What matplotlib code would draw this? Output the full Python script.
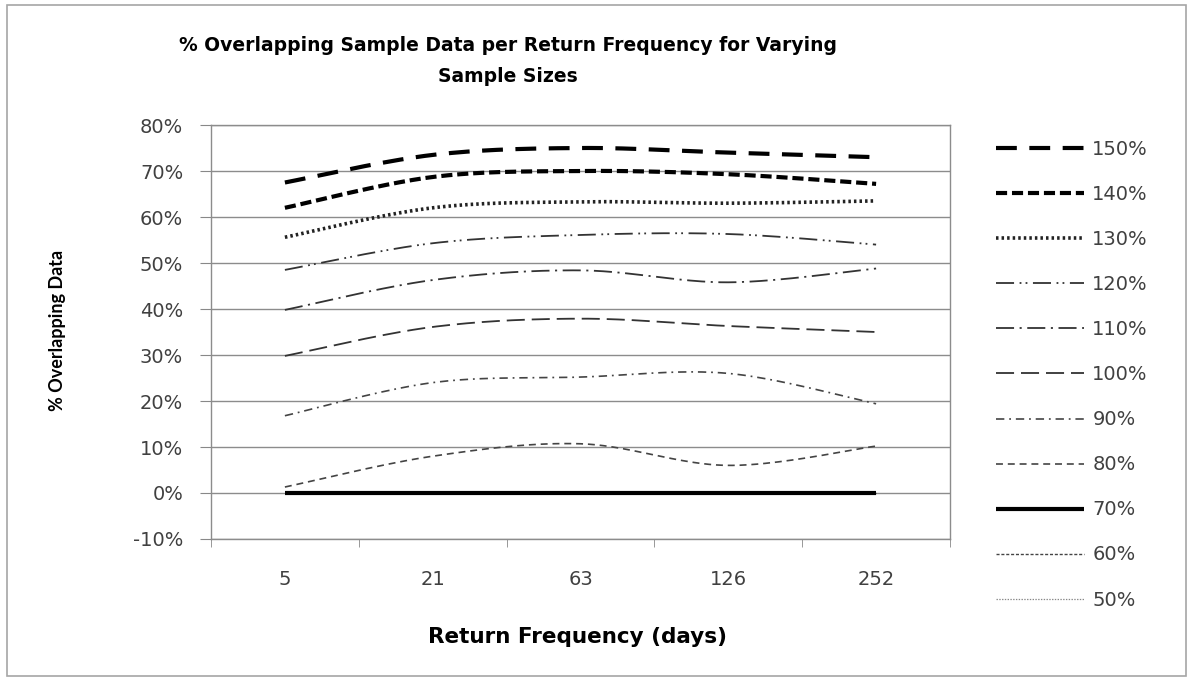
import numpy as np
import matplotlib
matplotlib.use("Agg")
import matplotlib.pyplot as plt
from matplotlib.patches import Rectangle

plt.rcParams['lines.scale_dashes'] = False

# ---- data ----
categories = ["5", "21", "63", "126", "252"]
series_labels = ["150%", "140%", "130%", "120%", "110%", "100%", "90%", "80%", "70%", "60%", "50%"]
s150 = [67.5, 73.5, 75.0, 74.0, 73.0]
s140 = [62.0, 68.7, 70.0, 69.3, 67.2]
s130 = [55.6, 62.0, 63.3, 63.0, 63.5]
s120 = [48.5, 54.3, 56.1, 56.3, 54.0]
s110 = [39.8, 46.3, 48.4, 45.8, 48.8]
s100 = [29.8, 36.1, 37.9, 36.3, 35.0]
s90 = [16.8, 24.0, 25.2, 26.0, 19.4]
s80 = [1.3, 8.0, 10.7, 6.0, 10.2]
s70 = [0.0, 0.0, 0.0, 0.0, 0.0]
s60 = [0.0, 0.0, 0.0, 0.0, 0.0]
s50 = [0.0, 0.0, 0.0, 0.0, 0.0]
yticks = [-10, 0, 10, 20, 30, 40, 50, 60, 70, 80]

series_values = [s150, s140, s130, s120, s110, s100, s90, s80, s70, s60, s50]

styles = {
    "150%": dict(lw=3.0, color="black", dashes=(15, 9)),
    "140%": dict(lw=3.0, color="black", dashes=(8, 3.5)),
    "130%": dict(lw=2.6, color="#222222", dashes=(1.8, 2.2)),
    "120%": dict(lw=1.3, color="#333333", dashes=(13, 4, 1.3, 3, 1.3, 4)),
    "110%": dict(lw=1.3, color="#333333", dashes=(13, 4, 1.5, 4)),
    "100%": dict(lw=1.3, color="#333333", dashes=(13, 5)),
    "90%": dict(lw=1.2, color="#444444", dashes=(6, 3.5, 1.3, 3.5)),
    "80%": dict(lw=1.2, color="#444444", dashes=(5, 3.5)),
    "70%": dict(lw=3.0, color="black"),
    "60%": dict(lw=1.0, color="#444444", dashes=(2.2, 1.3)),
    "50%": dict(lw=0.9, color="#888888", dashes=(1.0, 1.0)),
}


def smooth(x, y, n=40):
    """Catmull-Rom style Bezier smoothing (like Excel smoothed lines)."""
    x = np.asarray(x, float)
    y = np.asarray(y, float)
    P = np.column_stack([x, y])
    out = []
    for i in range(len(P) - 1):
        p0 = P[i - 1] if i > 0 else P[i]
        p1 = P[i]
        p2 = P[i + 1]
        p3 = P[i + 2] if i + 2 < len(P) else P[i + 1]
        b1 = p1 + (p2 - p0) / 6.0
        b2 = p2 - (p3 - p1) / 6.0
        t = np.linspace(0, 1, n)[:, None]
        seg = ((1 - t) ** 3) * p1 + 3 * ((1 - t) ** 2) * t * b1 + 3 * (1 - t) * t ** 2 * b2 + t ** 3 * p2
        out.append(seg if i == 0 else seg[1:])
    pts = np.vstack(out)
    return pts[:, 0], pts[:, 1]


W, H = 1194, 681
fig = plt.figure(figsize=(W / 100, H / 100), dpi=100)
fig.patch.set_facecolor("white")

# outer chart border
fig.add_artist(Rectangle((7 / W, 1 - 676 / H), (1186 - 7) / W, (676 - 5) / H,
                         transform=fig.transFigure, fill=False, edgecolor="#a6a6a6", lw=1.2))

ax = fig.add_axes([211 / W, 1 - 539 / H, (950 - 211) / W, (539 - 125) / H])
xpos = np.arange(len(categories))

handles = {}
for lab, vals in zip(reversed(series_labels), reversed(series_values)):
    st = dict(styles[lab])
    xs, ys = smooth(xpos, vals)
    dashes = st.pop("dashes", None)
    ln, = ax.plot(xs, ys, label=lab, solid_capstyle="butt", dash_capstyle="butt", **st)
    if dashes is not None:
        ln.set_dashes(dashes)
    handles[lab] = ln

TICKFONT = "DejaVu Sans"
ax.set_xlim(-0.5, len(categories) - 0.5)
ax.set_ylim(-10, 80)
ax.set_yticks(yticks)
ax.set_yticklabels([f"{v}%" for v in yticks])
ax.set_xticks(xpos)
ax.set_xticklabels(categories)
ax.set_xticks(np.arange(-0.5, len(categories)), minor=True)
ax.tick_params(axis="x", which="major", length=0, pad=22)
ax.tick_params(axis="x", which="minor", length=6, color="#888888", direction="out")
ax.tick_params(axis="y", length=8, color="#888888", direction="out", pad=12)
for lbl in ax.get_xticklabels() + ax.get_yticklabels():
    lbl.set_fontfamily(TICKFONT)
    lbl.set_fontsize(14)
    lbl.set_color("#404040")
ax.grid(axis="y", color="#8c8c8c", lw=1.0)
ax.set_axisbelow(True)
for sp in ax.spines.values():
    sp.set_color("#8c8c8c")
    sp.set_linewidth(1.0)

fig.text(508 / W, 1 - 61 / H, "% Overlapping Sample Data per Return Frequency for Varying\nSample Sizes",
         ha="center", va="center", fontsize=13.5, fontweight="bold", family="DejaVu Sans",
         linespacing=1.75, color="black")
fig.text(577 / W, 1 - 637 / H, "Return Frequency (days)", ha="center", va="center",
         fontsize=15.5, fontweight="bold", family="DejaVu Sans", color="black")
fig.text(58 / W, 1 - 330 / H, "% Overlapping Data", ha="center", va="center", rotation=90,
         fontsize=13, fontweight="bold", family=["Liberation Sans Narrow", "Lato"], color="black")

leg = fig.legend([handles[l] for l in series_labels], series_labels,
                 loc="upper left", bbox_to_anchor=(996 / W, 1 - 140 / H), frameon=False,
                 handlelength=4.5, handletextpad=0.45, labelspacing=1.34, borderpad=0,
                 borderaxespad=0,
                 prop={"family": TICKFONT, "size": 14})
for t in leg.get_texts():
    t.set_color("#404040")

fig.savefig("out.png", dpi=100, facecolor="white")
